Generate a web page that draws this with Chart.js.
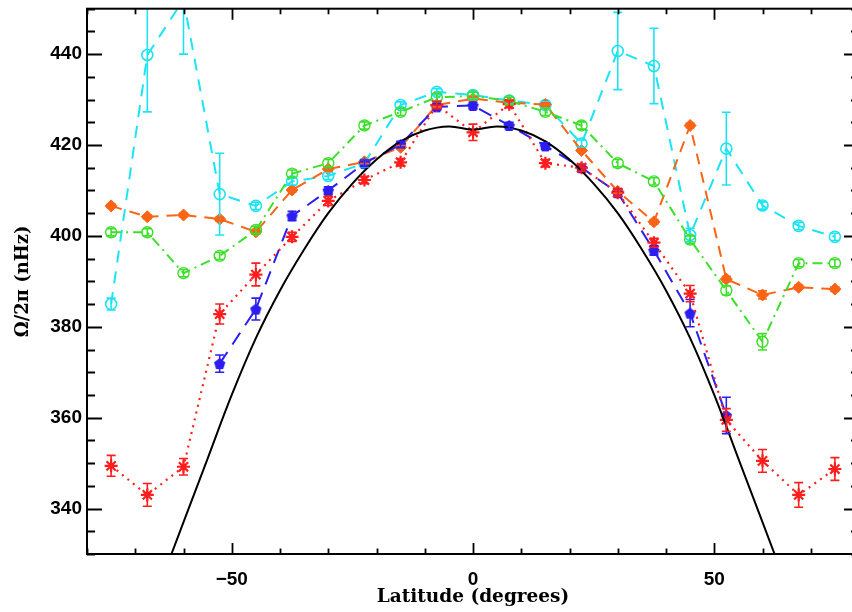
<!DOCTYPE html>
<html>
<head>
<meta charset="utf-8">
<script src="https://cdn.jsdelivr.net/npm/chart.js@4.4.1/dist/chart.umd.min.js"></script>
<style>
html, body { margin:0; padding:0; overflow:hidden; background:#fff; width:852px; height:612px; }
#wrap { width:870px; height:612px; }
</style>
</head>
<body>
<div id="wrap"><canvas id="c" width="870" height="612"></canvas></div>
<script>
// ---- data ----
const latitudes = [-75,-67.5,-60,-52.5,-45,-37.5,-30,-22.5,-15,-7.5,0,7.5,15,22.5,30,37.5,45,52.5,60,67.5,75];

const cyanValues  = [385.0,439.8,452.0,409.2,406.6,412.0,413.2,416.0,428.8,431.7,431.0,429.8,428.8,420.3,440.7,437.4,400.2,419.2,406.7,402.2,399.8];
const cyanErrors  = [1.3,12.5,12.0,9.0,0.8,0.8,0.8,0.8,0.7,0.7,0.7,0.7,0.7,0.8,8.5,8.3,1.5,8.0,0.8,0.8,0.8];

const orangeValues = [406.6,404.2,404.6,403.7,400.9,410.1,414.7,416.3,419.5,428.8,430.2,429.3,428.9,418.8,409.8,403.1,424.3,390.5,387.0,388.7,388.3];
const orangeErrors = [0.4,0.4,0.4,0.4,0.5,0.4,0.4,0.4,0.4,0.4,0.4,0.4,0.4,0.4,0.4,0.5,0.5,0.6,0.9,0.5,0.5];

const greenValues = [400.8,400.8,391.8,395.6,401.3,413.7,416.0,424.3,427.3,430.5,430.8,429.7,427.3,424.3,416.0,412.0,399.2,388.0,376.7,394.0,394.0];
const greenErrors = [0.8,0.8,0.8,0.8,0.8,0.8,0.8,0.8,0.8,0.8,0.8,0.8,0.8,0.8,0.8,0.8,0.8,1.0,1.8,0.8,0.8];

const blueValues = [null,null,null,371.9,383.9,404.4,410.0,416.0,420.1,428.4,428.7,424.3,419.8,415.0,409.5,396.8,383.0,360.5,null,null,null];
const blueErrors = [0,0,0,1.9,2.4,1.0,0.8,0.7,0.7,0.7,0.7,0.7,0.7,0.7,0.8,1.0,3.0,4.0,0,0,0];

const redValues = [349.4,343.0,349.2,382.8,391.5,399.8,407.7,412.3,416.2,428.8,422.8,429.0,416.0,415.0,409.5,398.5,387.3,359.5,350.5,343.0,348.7];
const redErrors = [2.3,2.5,1.8,2.2,2.5,1.0,1.0,0.8,0.8,0.8,1.8,0.8,0.8,0.8,0.8,1.0,1.8,2.5,2.5,2.7,2.5];

const modelLatitudes = [-67.5,-65,-62.5,-60,-55,-50,-45,-40,-35,-30,-25,-20,-15,-10,-5,0,5,10,15,20,25,30,35,40,45,50,55,60,62.5,65,67.5];
const modelValues    = [316,323,330,337,351,365,377.5,388,397,405,411.5,416.8,420.8,423.2,424.1,423.4,424.1,423.2,420.8,416.8,411.5,405,397,388,377.5,365,351,337,330,323,316];

const xTickLabels = [-50, 0, 50];
const yTickLabels = [340, 360, 380, 400, 420, 440];

// ---- helpers ----
function pts(xs, ys) { return xs.map((x, i) => ({ x: x, y: ys[i] })); }

function pentagon(size, color) {
  const c = document.createElement('canvas');
  c.width = size; c.height = size;
  const g = c.getContext('2d');
  const r = size / 2 - 0.5;
  g.beginPath();
  for (let k = 0; k < 5; k++) {
    const a = -Math.PI / 2 + k * 2 * Math.PI / 5;
    const px = size / 2 + r * Math.cos(a), py = size / 2 + r * Math.sin(a) + 0.6;
    k === 0 ? g.moveTo(px, py) : g.lineTo(px, py);
  }
  g.closePath();
  g.fillStyle = color; g.fill();
  return c;
}

const CYAN = '#1de4f4', ORANGE = '#fa6414', GREEN = '#3ce02a', BLUE = '#2c1ef0', RED = '#ff1e1e';

const errorBars = {
  id: 'errorBars',
  afterDatasetsDraw(chart) {
    const ctx = chart.ctx, xs = chart.scales.x, ys = chart.scales.y, a = chart.chartArea;
    ctx.save();
    ctx.beginPath(); ctx.rect(a.left, a.top, a.right - a.left, a.bottom - a.top); ctx.clip();
    chart.data.datasets.forEach(ds => {
      if (!ds.errors) return;
      ctx.strokeStyle = ds.borderColor; ctx.lineWidth = 1.6; ctx.setLineDash([]);
      ds.data.forEach((p, i) => {
        if (p.y == null || !ds.errors[i]) return;
        const x = xs.getPixelForValue(p.x);
        const y1 = ys.getPixelForValue(p.y + ds.errors[i]);
        const y2 = ys.getPixelForValue(p.y - ds.errors[i]);
        const w = 4.5;
        ctx.beginPath();
        ctx.moveTo(x, y1); ctx.lineTo(x, y2);
        ctx.moveTo(x - w, y1); ctx.lineTo(x + w, y1);
        ctx.moveTo(x - w, y2); ctx.lineTo(x + w, y2);
        ctx.stroke();
      });
    });
    ctx.restore();
  }
};

const frameTicks = {
  id: 'frameTicks',
  afterDraw(chart) {
    const ctx = chart.ctx, xs = chart.scales.x, ys = chart.scales.y, a = chart.chartArea;
    ctx.save();
    ctx.strokeStyle = '#000'; ctx.lineWidth = 2; ctx.setLineDash([]);
    ctx.strokeRect(a.left, a.top, a.right - a.left, a.bottom - a.top);
    ctx.lineWidth = 1.8;
    ctx.beginPath();
    for (let v = -80; v <= 80; v += 10) {
      const x = Math.round(xs.getPixelForValue(v)) + 0.5;
      const L = (v % 50 === 0) ? 11 : 5.5;
      ctx.moveTo(x, a.bottom); ctx.lineTo(x, a.bottom - L);
      ctx.moveTo(x, a.top); ctx.lineTo(x, a.top + L);
    }
    for (let v = 330; v <= 450; v += 5) {
      const y = Math.round(ys.getPixelForValue(v)) + 0.5;
      const L = (v % 20 === 0) ? 15 : 8;
      ctx.moveTo(a.left, y); ctx.lineTo(a.left + L, y);
      ctx.moveTo(a.right, y); ctx.lineTo(a.right - L, y);
    }
    ctx.stroke();
    ctx.restore();
  }
};

const tickFont = { family: "'Liberation Sans', Arial, sans-serif", size: 19, weight: 'bold' };
const xTitleFont = { family: "'DejaVu Serif', serif", size: 18.5, weight: 'bold' };
const yTitleFont = { family: "'DejaVu Serif', serif", size: 18, weight: 'bold' };

const chart = new Chart(document.getElementById('c'), {
  type: 'scatter',
  data: {
    datasets: [
      { label: 'model', data: pts(modelLatitudes, modelValues), showLine: true, borderColor: '#000', borderWidth: 2,
        pointRadius: 0, tension: 0.4, order: 0 },
      { label: 'cyan', data: pts(latitudes, cyanValues), errors: cyanErrors, showLine: true, borderColor: CYAN, backgroundColor: 'rgba(0,0,0,0)',
        borderWidth: 2, borderDash: [12, 9], pointStyle: 'circle', pointRadius: 5.5, pointBorderWidth: 1.6, pointBorderColor: CYAN, order: 5 },
      { label: 'orange', data: pts(latitudes, orangeValues), errors: orangeErrors, showLine: true, borderColor: ORANGE, backgroundColor: ORANGE,
        borderWidth: 2, borderDash: [11, 8], pointStyle: 'rectRot', pointRadius: 6, pointBorderWidth: 1, order: 4 },
      { label: 'green', data: pts(latitudes, greenValues), errors: greenErrors, showLine: true, borderColor: GREEN, backgroundColor: 'rgba(0,0,0,0)',
        borderWidth: 2, borderDash: [10, 5, 2, 5], pointStyle: 'circle', pointRadius: 5.5, pointBorderWidth: 1.4, pointBorderColor: GREEN, order: 3 },
      { label: 'blue', data: pts(latitudes, blueValues), errors: blueErrors, showLine: true, spanGaps: false, borderColor: BLUE, backgroundColor: BLUE,
        borderWidth: 2, borderDash: [14, 9], pointStyle: pentagon(13, BLUE), pointRadius: 6, order: 2 },
      { label: 'red', data: pts(latitudes, redValues), errors: redErrors, showLine: true, borderColor: RED, backgroundColor: RED,
        borderWidth: 2.2, borderDash: [2, 5], pointStyle: 'star', pointRadius: 6.5, pointBorderWidth: 2.2, pointBorderColor: RED, order: 1 }
    ]
  },
  options: {
    responsive: false,
    animation: false,
    events: [],
    layout: { padding: { top: 4, right: 11, left: 0, bottom: 0 } },
    plugins: { legend: { display: false }, tooltip: { enabled: false } },
    scales: {
      x: {
        type: 'linear', min: -80, max: 80,
        grid: { display: false, drawTicks: false },
        border: { display: false },
        afterBuildTicks: s => { s.ticks = xTickLabels.map(v => ({ value: v })); },
        afterFit: s => { s.height = 58; s.paddingLeft = 0; s.paddingRight = 0; },
        ticks: { color: '#000', font: tickFont, padding: 14, maxRotation: 0,
                 callback: v => (v < 0 ? '\u2212' + Math.abs(v) : String(v)) },
        title: { display: true, text: 'Latitude (degrees)', color: '#000', font: xTitleFont, padding: { top: 0, bottom: 4 } }
      },
      y: {
        type: 'linear', min: 330, max: 450,
        grid: { display: false, drawTicks: false },
        border: { display: false },
        afterBuildTicks: s => { s.ticks = yTickLabels.map(v => ({ value: v })); },
        afterFit: s => { s.width = 87; s.paddingTop = 0; s.paddingBottom = 0; },
        ticks: { color: '#000', font: tickFont, padding: 5 },
        title: { display: true, text: '\u03A9/2\u03C0 (nHz)', color: '#000', font: yTitleFont, padding: { top: 13, bottom: 0 } }
      }
    }
  },
  plugins: [errorBars, frameTicks]
});

// keep the plot frame where the reference has it (top edge at y = 4)
const dTop = chart.chartArea.top - 4;
if (Math.abs(dTop) > 0.5) {
  chart.options.layout.padding.top = 4 - dTop;
  chart.update();
}
</script>
</body>
</html>
